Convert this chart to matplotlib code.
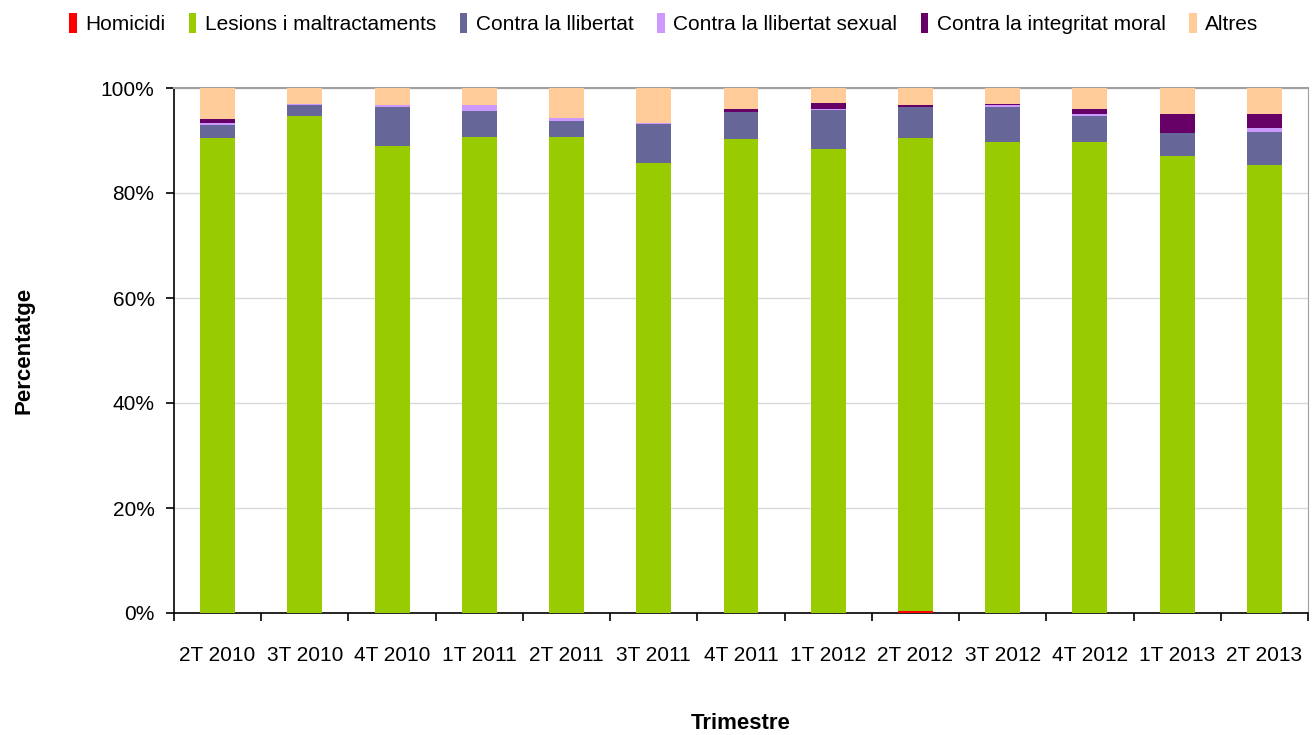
import numpy as np
import matplotlib.pyplot as plt
from matplotlib.ticker import PercentFormatter

plt.rcParams['font.family'] = ['Liberation Sans', 'DejaVu Sans']

trimestres = ['2T 2010', '3T 2010', '4T 2010', '1T 2011', '2T 2011', '3T 2011', '4T 2011',
              '1T 2012', '2T 2012', '3T 2012', '4T 2012', '1T 2013', '2T 2013']

homicidi = [0, 0, 0, 0, 0, 0, 0, 0, 0.4, 0, 0, 0, 0]
lesions = [90.5, 94.7, 89.0, 90.7, 90.7, 85.7, 90.3, 88.4, 90.1, 89.7, 89.7, 87.0, 85.3]
llibertat = [2.5, 2.1, 7.4, 4.9, 3.0, 7.4, 5.1, 7.4, 5.9, 6.7, 5.0, 4.4, 6.3]
llibertat_sexual = [0.3, 0.2, 0.4, 1.2, 0.6, 0.2, 0, 0.2, 0, 0.4, 0.4, 0, 0.8]
integritat_moral = [0.8, 0, 0, 0, 0, 0, 0.6, 1.1, 0.4, 0.2, 0.9, 3.6, 2.7]
altres = [5.9, 3.0, 3.2, 3.2, 5.7, 6.7, 4.0, 2.9, 3.2, 3.0, 4.0, 5.0, 4.9]

series = [
    ('Homicidi', homicidi, '#FF0000'),
    ('Lesions i maltractaments', lesions, '#99CC00'),
    ('Contra la llibertat', llibertat, '#666699'),
    ('Contra la llibertat sexual', llibertat_sexual, '#CC99FF'),
    ('Contra la integritat moral', integritat_moral, '#660066'),
    ('Altres', altres, '#FFCC99'),
]

fig = plt.figure(figsize=(13.12, 7.35), dpi=100)
ax = fig.add_axes([174 / 1312, 122 / 735, 1134 / 1312, 525 / 735])

x = np.arange(len(trimestres))
bottom = np.zeros(len(trimestres))
for name, vals, color in series:
    vals = np.array(vals)
    ax.bar(x, vals, 0.4, bottom=bottom, color=color, label=name, linewidth=0, zorder=3)
    bottom += vals

ax.set_xlim(-0.5, len(trimestres) - 0.5)
ax.set_ylim(0, 100)
ax.set_yticks(np.arange(0, 101, 20))
ax.yaxis.set_major_formatter(PercentFormatter(decimals=0))
ax.grid(axis='y', color='#D9D9D9', linewidth=1, zorder=0)

# etiquetes al centre, marques entre categories
ax.set_xticks(x)
ax.set_xticklabels(trimestres)
ax.set_xticks(np.arange(-0.5, len(trimestres), 1), minor=True)
ax.tick_params(axis='x', which='major', length=0, pad=24, labelsize=15)
ax.tick_params(axis='x', which='minor', length=6, width=1.2, direction='out')
ax.tick_params(axis='y', length=6, width=1.2, pad=8, labelsize=15)

ax.spines['left'].set_linewidth(1.2)
ax.spines['bottom'].set_linewidth(1.2)
ax.spines['top'].set_color('#A0A0A0')
ax.spines['top'].set_linewidth(1.5)
ax.spines['right'].set_color('#A0A0A0')

ax.set_xlabel('Trimestre', fontsize=16, fontweight='bold', labelpad=34)
ax.set_ylabel('Percentatge', fontsize=16, fontweight='bold', labelpad=48)

fig.legend(loc='upper center', bbox_to_anchor=(0.506, 1.008), ncol=6, frameon=False,
           fontsize=15, handlelength=0.35, handleheight=1.1, handletextpad=0.4,
           columnspacing=1.15)

plt.savefig('out.png', dpi=100)
